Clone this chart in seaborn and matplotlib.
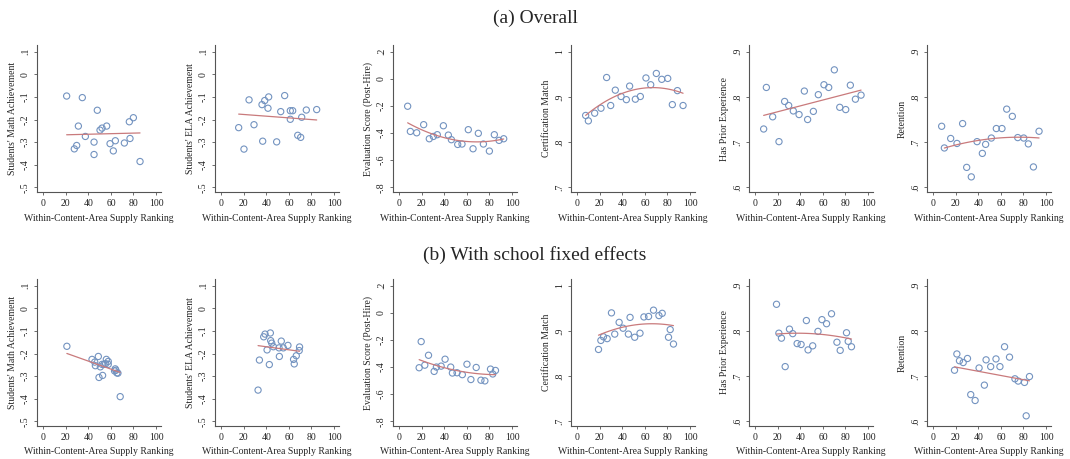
import numpy as np
import pandas as pd
import matplotlib
matplotlib.use("Agg")
import matplotlib.pyplot as plt
import seaborn as sns

sns.set_theme(style="white")
plt.rcParams["font.family"] = ["Liberation Serif", "DejaVu Serif"]

# ---------------- binned means: (a) Overall ----------------
x_math_a = [20.7, 34.6, 47.9, 31.1, 76.3, 79.9, 50.3, 52.1, 56.2, 37.3,
            29.6, 27.5, 45.0, 45.0, 59.2, 63.9, 62.1, 71.9, 76.9, 85.8]
y_math_a = [-0.096, -0.103, -0.159, -0.229, -0.210, -0.192, -0.247, -0.238, -0.229, -0.275,
            -0.315, -0.330, -0.300, -0.355, -0.307, -0.294, -0.339, -0.304, -0.284, -0.386]

x_ela_a = [15.4, 20.1, 24.6, 29.0, 36.1, 38.5, 42.0, 41.4, 36.7, 49.1,
           52.7, 56.2, 61.2, 63.3, 61.2, 71.3, 75.4, 84.6, 67.8, 70.4]
y_ela_a = [-0.236, -0.331, -0.113, -0.223, -0.134, -0.116, -0.100, -0.150, -0.296, -0.299,
           -0.165, -0.094, -0.161, -0.161, -0.199, -0.190, -0.158, -0.156, -0.270, -0.279]

x_eval_a = [7.4, 9.8, 15.4, 21.6, 26.6, 30.2, 33.7, 39.1, 43.5, 46.2,
            51.8, 55.6, 61.2, 65.4, 70.1, 74.6, 79.9, 84.3, 88.5, 92.6]
y_eval_a = [-0.202, -0.388, -0.398, -0.338, -0.442, -0.425, -0.412, -0.346, -0.415, -0.449,
            -0.484, -0.481, -0.375, -0.516, -0.402, -0.481, -0.533, -0.412, -0.454, -0.442]

x_teach_a = [7.4, 9.8, 15.4, 21.0, 26.0, 29.6, 33.7, 38.8, 43.5, 46.4,
             51.5, 55.9, 60.9, 65.1, 70.1, 74.9, 80.2, 84.3, 88.8, 93.8]
y_cert_a = [0.859, 0.847, 0.864, 0.875, 0.943, 0.881, 0.915, 0.901, 0.894, 0.924,
            0.895, 0.901, 0.942, 0.927, 0.952, 0.939, 0.941, 0.883, 0.914, 0.881]
y_prior_a = [0.729, 0.821, 0.756, 0.701, 0.790, 0.781, 0.769, 0.761, 0.813, 0.750,
             0.768, 0.805, 0.827, 0.821, 0.860, 0.777, 0.772, 0.826, 0.795, 0.804]
y_ret_a = [0.735, 0.687, 0.708, 0.697, 0.741, 0.644, 0.623, 0.701, 0.675, 0.695,
           0.709, 0.730, 0.730, 0.773, 0.757, 0.710, 0.709, 0.696, 0.645, 0.724]

# quadratic fit (estimated on the underlying micro data), sampled along its range
fx_math_a = [20.7, 50.0, 85.8]
fy_math_a = [-0.267, -0.265, -0.259]
fx_ela_a = [15.4, 50.0, 84.6]
fy_ela_a = [-0.176, -0.189, -0.202]
fx_eval_a = [7.4, 20.0, 40.0, 60.0, 75.0, 92.6]
fy_eval_a = [-0.323, -0.380, -0.430, -0.462, -0.467, -0.442]
fx_cert_a = [7.4, 20.0, 40.0, 60.0, 75.0, 93.8]
fy_cert_a = [0.861, 0.880, 0.907, 0.921, 0.921, 0.907]
fx_prior_a = [7.4, 50.0, 93.8]
fy_prior_a = [0.759, 0.787, 0.815]
fx_ret_a = [9.8, 30.0, 50.0, 70.0, 93.8]
fy_ret_a = [0.687, 0.699, 0.707, 0.711, 0.709]

# ---------------- binned means: (b) With school fixed effects ----------------
x_math_b = [20.9, 43.2, 45.6, 48.8, 46.2, 50.6, 49.4, 52.6, 52.1, 53.8,
            55.9, 55.3, 57.6, 57.6, 63.8, 63.2, 64.4, 65.3, 66.2, 68.2]
y_math_b = [-0.168, -0.226, -0.238, -0.213, -0.254, -0.259, -0.306, -0.297, -0.248, -0.248,
            -0.226, -0.245, -0.235, -0.248, -0.268, -0.277, -0.274, -0.286, -0.287, -0.391]

x_ela_b = [32.6, 33.8, 37.6, 38.8, 43.5, 40.6, 42.6, 43.8, 44.7, 46.2,
           51.5, 51.2, 53.2, 55.0, 59.1, 64.1, 64.7, 66.5, 69.4, 69.1]
y_ela_b = [-0.362, -0.229, -0.126, -0.114, -0.109, -0.184, -0.249, -0.143, -0.154, -0.170,
           -0.213, -0.175, -0.145, -0.175, -0.164, -0.226, -0.246, -0.210, -0.171, -0.187]

x_eval_b = [17.6, 19.4, 22.6, 25.9, 30.9, 32.9, 37.1, 40.6, 45.6, 47.1,
            51.2, 55.9, 60.0, 63.5, 68.2, 72.4, 75.9, 80.9, 82.9, 85.3]
y_eval_b = [-0.405, -0.212, -0.386, -0.313, -0.432, -0.400, -0.393, -0.342, -0.400, -0.444,
            -0.442, -0.456, -0.379, -0.492, -0.403, -0.497, -0.502, -0.415, -0.451, -0.425]

x_teach_b = [18.8, 20.9, 23.2, 26.5, 30.3, 33.2, 37.1, 40.6, 45.3, 46.8,
             50.9, 55.6, 59.1, 63.2, 67.6, 72.4, 75.3, 80.9, 82.4, 85.3]
y_cert_b = [0.859, 0.879, 0.887, 0.883, 0.940, 0.893, 0.919, 0.906, 0.893, 0.930,
            0.886, 0.895, 0.931, 0.932, 0.946, 0.934, 0.939, 0.886, 0.903, 0.871]
y_prior_b = [0.859, 0.795, 0.784, 0.721, 0.804, 0.794, 0.772, 0.770, 0.823, 0.758,
             0.767, 0.799, 0.825, 0.816, 0.838, 0.775, 0.757, 0.796, 0.777, 0.765]
y_ret_b = [0.713, 0.749, 0.734, 0.730, 0.739, 0.659, 0.646, 0.718, 0.680, 0.736,
           0.721, 0.738, 0.721, 0.765, 0.742, 0.694, 0.689, 0.686, 0.612, 0.699]

fx_math_b = [20.9, 45.0, 68.2]
fy_math_b = [-0.200, -0.242, -0.284]
fx_ela_b = [32.6, 50.0, 69.4]
fy_ela_b = [-0.165, -0.177, -0.190]
fx_eval_b = [17.6, 30.0, 45.0, 60.0, 72.0, 85.3]
fy_eval_b = [-0.347, -0.378, -0.415, -0.440, -0.452, -0.455]
fx_cert_b = [18.8, 40.0, 60.0, 75.0, 85.3]
fy_cert_b = [0.891, 0.907, 0.916, 0.916, 0.911]
fx_prior_b = [18.8, 40.0, 60.0, 85.3]
fy_prior_b = [0.793, 0.795, 0.792, 0.782]
fx_ret_b = [18.8, 50.0, 85.3]
fy_ret_b = [0.721, 0.705, 0.690]

# ---------------- axis labels and ticks ----------------
outcome_labels = ["Students' Math Achievement", "Students' ELA Achievement",
                  "Evaluation Score (Post-Hire)", "Certification Match",
                  "Has Prior Experience", "Retention"]
x_label = "Within-Content-Area Supply Ranking"
x_ticks = [0, 20, 40, 60, 80, 100]
x_tick_labels = ["0", "20", "40", "60", "80", "100"]

y_ticks_ach = [-0.5, -0.4, -0.3, -0.2, -0.1, 0.0, 0.1]
y_tick_labels_ach = ["-.5", "-.4", "-.3", "-.2", "-.1", "0", ".1"]
y_ticks_eval = [-0.8, -0.6, -0.4, -0.2, 0.0, 0.2]
y_tick_labels_eval = ["-.8", "-.6", "-.4", "-.2", "0", ".2"]
y_ticks_cert = [0.7, 0.8, 0.9, 1.0]
y_tick_labels_cert = [".7", ".8", ".9", "1"]
y_ticks_share = [0.6, 0.7, 0.8, 0.9]
y_tick_labels_share = [".6", ".7", ".8", ".9"]

panel_titles = ["(a) Overall", "(b) With school fixed effects"]

rows = [
    [(x_math_a, y_math_a, fx_math_a, fy_math_a), (x_ela_a, y_ela_a, fx_ela_a, fy_ela_a),
     (x_eval_a, y_eval_a, fx_eval_a, fy_eval_a), (x_teach_a, y_cert_a, fx_cert_a, fy_cert_a),
     (x_teach_a, y_prior_a, fx_prior_a, fy_prior_a), (x_teach_a, y_ret_a, fx_ret_a, fy_ret_a)],
    [(x_math_b, y_math_b, fx_math_b, fy_math_b), (x_ela_b, y_ela_b, fx_ela_b, fy_ela_b),
     (x_eval_b, y_eval_b, fx_eval_b, fy_eval_b), (x_teach_b, y_cert_b, fx_cert_b, fy_cert_b),
     (x_teach_b, y_prior_b, fx_prior_b, fy_prior_b), (x_teach_b, y_ret_b, fx_ret_b, fy_ret_b)],
]
y_axes = [(y_ticks_ach, y_tick_labels_ach), (y_ticks_ach, y_tick_labels_ach),
          (y_ticks_eval, y_tick_labels_eval), (y_ticks_cert, y_tick_labels_cert),
          (y_ticks_share, y_tick_labels_share), (y_ticks_share, y_tick_labels_share)]

# ---------------- styling ----------------
W, H = 1070, 459
marker_edge = "#7393c0"
fit_color = "#c97a7c"
axis_color = "#555555"
fs = 7.0

fig = plt.figure(figsize=(W / 100, H / 100), dpi=100)
fig.patch.set_facecolor("white")

row_tops = [45, 279]
ax_h = 147
ax_w = 124
left0, step = 37, 178

for r, row in enumerate(rows):
    for c, (xs, ys, fxs, fys) in enumerate(row):
        left = left0 + c * step
        ax = fig.add_axes([left / W, 1 - (row_tops[r] + ax_h) / H, ax_w / W, ax_h / H])
        df = pd.DataFrame({"x": xs, "y": ys})
        fit = pd.DataFrame({"x": fxs, "y": fys})
        order = 2 if len(fxs) > 3 else 1
        sns.regplot(data=fit, x="x", y="y", order=order, ci=None, scatter=False, ax=ax,
                    truncate=True, line_kws=dict(color=fit_color, lw=0.9))
        sns.scatterplot(data=df, x="x", y="y", ax=ax, marker="o", s=20,
                        facecolors="none", edgecolor=marker_edge, linewidth=0.8,
                        legend=False)
        yt, ytl = y_axes[c]
        span = yt[-1] - yt[0]
        ax.set_ylim(yt[0] - 0.035 * span, yt[-1] + 0.05 * span)
        ax.set_xlim(-5.6, 104.4)
        ax.set_xticks(x_ticks)
        ax.set_xticklabels(x_tick_labels, fontsize=fs)
        ax.set_yticks(yt)
        ax.set_yticklabels(ytl, fontsize=fs, rotation=90, va="center")
        ax.set_xlabel(x_label, fontsize=fs, labelpad=4)
        ax.set_ylabel(outcome_labels[c], fontsize=fs, labelpad=3)
        for side in ("top", "right"):
            ax.spines[side].set_visible(False)
        for side in ("left", "bottom"):
            ax.spines[side].set_color(axis_color)
            ax.spines[side].set_linewidth(0.8)
        ax.tick_params(axis="both", which="major", length=2.5, width=0.6,
                       color=axis_color, pad=2.5, labelcolor="#222222",
                       bottom=True, left=True)
        ax.set_facecolor("white")

fig.text(0.5, 1 - 18 / H, panel_titles[0], ha="center", va="center", fontsize=14)
fig.text(0.5, 1 - 255 / H, panel_titles[1], ha="center", va="center", fontsize=14)

fig.savefig("out.png", dpi=100, facecolor="white")
